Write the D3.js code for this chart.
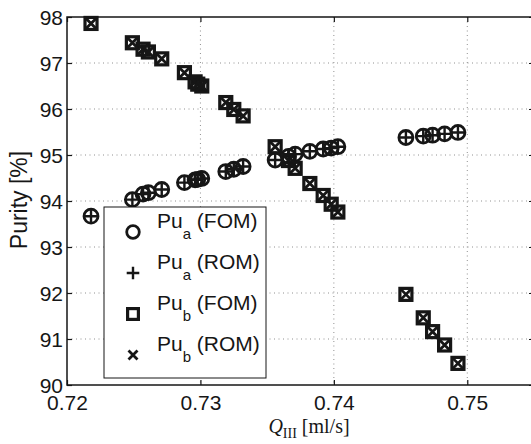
<!DOCTYPE html>
<html>
<head>
<meta charset="utf-8">
<script src="https://cdn.jsdelivr.net/npm/d3@7"></script>
<style>
  html, body { margin: 0; padding: 0; background: #fff; }
  svg { display: block; }
</style>
</head>
<body>
<svg id="chart" width="531" height="444"></svg>
<script>
// Flow rate in zone III (ml/s)
const flowQ = [0.7218, 0.7249, 0.7257, 0.7261, 0.7271, 0.7288, 0.7296, 0.7298, 0.7301,
               0.7319, 0.7325, 0.7332, 0.7356, 0.7366, 0.7371, 0.7382, 0.7392, 0.7398, 0.7403,
               0.7454, 0.7467, 0.7474, 0.7483, 0.7493];
// Purity of product a (%), full-order and reduced-order models
const puaFOM = [93.67, 94.03, 94.15, 94.18, 94.25, 94.40, 94.46, 94.47, 94.49,
                94.64, 94.69, 94.75, 94.89, 94.97, 95.02, 95.08, 95.13, 95.15, 95.18,
                95.38, 95.41, 95.43, 95.46, 95.49];
const puaROM = [93.67, 94.03, 94.15, 94.18, 94.25, 94.40, 94.46, 94.47, 94.49,
                94.64, 94.69, 94.75, 94.89, 94.97, 95.02, 95.08, 95.13, 95.15, 95.18,
                95.38, 95.41, 95.43, 95.46, 95.49];
// Purity of product b (%), full-order and reduced-order models
const pubFOM = [97.86, 97.44, 97.30, 97.24, 97.09, 96.79, 96.59, 96.54, 96.50,
                96.14, 95.99, 95.85, 95.18, 94.88, 94.71, 94.38, 94.12, 93.93, 93.76,
                91.97, 91.46, 91.16, 90.87, 90.47];
const pubROM = [97.86, 97.44, 97.30, 97.24, 97.09, 96.79, 96.59, 96.54, 96.50,
                96.14, 95.99, 95.85, 95.18, 94.88, 94.71, 94.38, 94.12, 93.93, 93.76,
                91.97, 91.46, 91.16, 90.87, 90.47];

const xTicks = [0.72, 0.73, 0.74, 0.75];
const yTicks = [90, 91, 92, 93, 94, 95, 96, 97, 98];
const legendItems = [
  { sym: "circle", base: "Pu", sub: "a", tail: " (FOM)" },
  { sym: "plus",   base: "Pu", sub: "a", tail: " (ROM)" },
  { sym: "square", base: "Pu", sub: "b", tail: " (FOM)" },
  { sym: "cross",  base: "Pu", sub: "b", tail: " (ROM)" }
];

const svg = d3.select("#chart");
const pL = 67, pR = 534, pT = 17, pB = 385;
const x = d3.scaleLinear().domain([0.72, 0.755]).range([pL, pR]);
const y = d3.scaleLinear().domain([90, 98]).range([pB, pT]);
const ink = "#161616";
const sans = "'Liberation Sans', Arial, Helvetica, sans-serif";
const serif = "'Liberation Serif', 'Times New Roman', serif";

// dotted grid
const grid = svg.append("g").attr("stroke", "#909090").attr("stroke-width", 1)
  .attr("stroke-dasharray", "1,3.5");
grid.selectAll("line.gx").data(xTicks.slice(1)).join("line")
  .attr("x1", d => x(d)).attr("x2", d => x(d)).attr("y1", pT).attr("y2", pB);
grid.selectAll("line.gy").data(yTicks.slice(1, -1)).join("line")
  .attr("x1", pL).attr("x2", pR).attr("y1", d => y(d)).attr("y2", d => y(d));

// axes (ticks pointing inward) and frame
const axB = d3.axisBottom(x).tickValues(xTicks).tickSize(-5).tickPadding(10)
  .tickFormat(d3.format(".2f"));
const axT = d3.axisTop(x).tickValues(xTicks).tickSize(-5).tickFormat("");
const axL = d3.axisLeft(y).tickValues(yTicks).tickSize(-5).tickPadding(4)
  .tickFormat(d3.format("d"));
const axR = d3.axisRight(y).tickValues(yTicks).tickSize(-5).tickFormat("");

function style(g) {
  g.select(".domain").remove();
  g.selectAll(".tick line").attr("stroke", ink).attr("stroke-width", 1.2);
  g.selectAll("text").attr("fill", ink).attr("font-family", sans).attr("font-size", 21);
}
svg.append("g").attr("transform", `translate(0,${pB})`).call(axB).call(style);
svg.append("g").attr("transform", `translate(0,${pT})`).call(axT).call(style);
svg.append("g").attr("transform", `translate(${pL},0)`).call(axL).call(style)
  .selectAll("text").attr("dy", "0.36em");
svg.append("g").attr("transform", `translate(${pR},0)`).call(axR).call(style);

svg.append("rect").attr("x", pL).attr("y", pT)
  .attr("width", pR - pL).attr("height", pB - pT)
  .attr("fill", "none").attr("stroke", ink).attr("stroke-width", 1.5);

// marker shapes
function drawMarker(g, sym, s) {
  if (sym === "circle") {
    g.append("circle").attr("r", 7 * s).attr("fill", "none")
      .attr("stroke", ink).attr("stroke-width", 2.8);
  } else if (sym === "plus") {
    g.append("path").attr("d", `M${-7 * s},0H${7 * s}M0,${-7 * s}V${7 * s}`)
      .attr("stroke", ink).attr("stroke-width", 2.4).attr("fill", "none");
  } else if (sym === "square") {
    g.append("rect").attr("x", -6 * s).attr("y", -6 * s)
      .attr("width", 12 * s).attr("height", 12 * s).attr("fill", "none")
      .attr("stroke", ink).attr("stroke-width", 3.2);
  } else {
    const h = 5 * s;
    g.append("path").attr("d", `M${-h},${-h}L${h},${h}M${-h},${h}L${h},${-h}`)
      .attr("stroke", ink).attr("stroke-width", 2.8).attr("fill", "none");
  }
}

function series(vals, sym) {
  const g = svg.append("g");
  vals.forEach((v, i) => {
    const m = g.append("g").attr("transform", `translate(${x(flowQ[i])},${y(v)})`);
    drawMarker(m, sym, 1);
  });
}
series(puaFOM, "circle");
series(puaROM, "plus");
series(pubFOM, "square");
series(pubROM, "cross");

// legend
const lg = svg.append("g");
lg.append("rect").attr("x", 104).attr("y", 207).attr("width", 162).attr("height", 171)
  .attr("fill", "#fff").attr("stroke", ink).attr("stroke-width", 1);
legendItems.forEach((it, i) => {
  const cy = 232 + i * 41;
  const m = lg.append("g").attr("transform", `translate(133,${cy})`);
  drawMarker(m, it.sym, 0.9);
  const t = lg.append("text").attr("x", 157).attr("y", cy - 4)
    .attr("font-family", sans).attr("font-size", 21).attr("fill", ink);
  t.append("tspan").text(it.base);
  t.append("tspan").attr("font-size", 15).attr("dy", 11).text(it.sub);
  t.append("tspan").attr("dy", -11).text(it.tail);
});

// axis titles
svg.append("text").attr("transform", "translate(27,200) rotate(-90)")
  .attr("text-anchor", "middle").attr("font-family", sans).attr("font-size", 23)
  .attr("fill", ink).text("Purity [%]");

const xl = svg.append("text").attr("x", 309).attr("y", 433).attr("text-anchor", "middle")
  .attr("font-family", serif).attr("font-size", 20).attr("fill", ink);
xl.append("tspan").attr("font-style", "italic").text("Q");
xl.append("tspan").attr("font-size", 14).attr("dy", 5).text("III");
xl.append("tspan").attr("dy", -5).text(" [ml/s]");
</script>
</body>
</html>
